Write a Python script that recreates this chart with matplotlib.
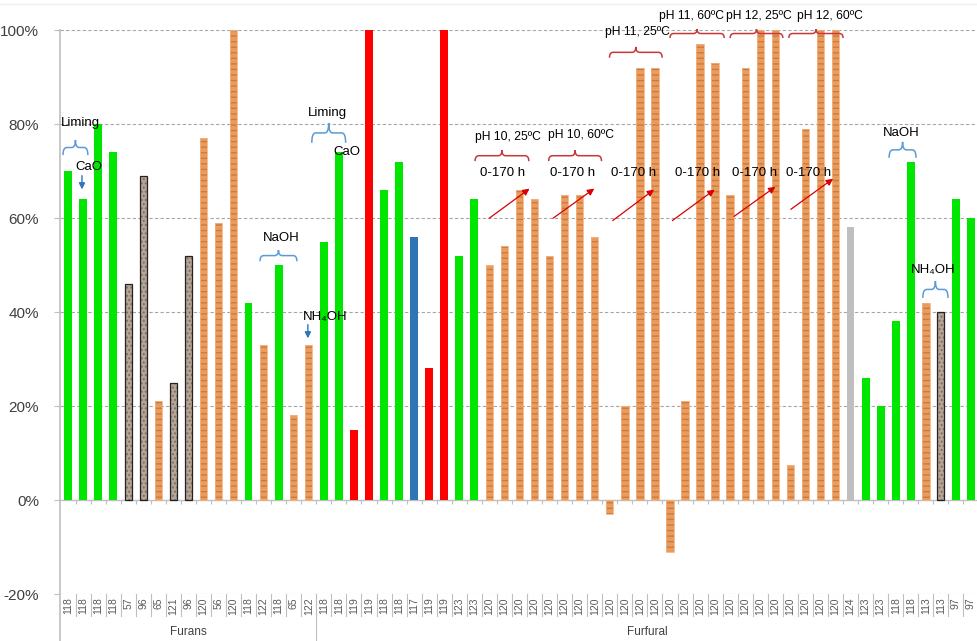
import matplotlib
matplotlib.use("Agg")
import matplotlib.pyplot as plt
from matplotlib.path import Path
from matplotlib.patches import PathPatch
from matplotlib.lines import Line2D
import matplotlib.transforms as mtransforms

plt.rcParams['font.family'] = ['Liberation Sans', 'DejaVu Sans']
plt.rcParams['hatch.linewidth'] = 1.0

# category labels (temperature) and groups
cats = (['118', '118', '118', '118', '57', '96', '65', '121', '96', '120', '56', '120',
         '118', '122', '118', '65', '122',
         '118', '118', '119', '119', '118', '118', '117', '119', '119', '123', '123']
        + ['120'] * 24
        + ['124', '123', '123', '118', '118', '113', '113', '97', '97'])
groups = ['Furans', 'Furfural']
group_sizes = [17, 44]

# removal (%) for each bar
vals = [70, 64, 80, 74, 46, 69, 21, 25, 52, 77, 59, 100, 42, 33, 50, 18, 33,
        55, 74, 15, 100, 66, 72, 56, 28, 100, 52, 64,
        50, 54, 66, 64, 52, 65, 65, 56, -3, 20, 92, 92, -11, 21, 97, 93, 65, 92,
        100, 100, 7.5, 79, 100, 100,
        58, 26, 20, 38, 72, 42, 40, 64, 60]

# adsorbent type per bar: g=lime/green, w=wood, s=stone, r=red, b=blue, l=light grey
kinds = "ggggsswsswwwgwgww" + "ggrrggbrrgg" + "w" * 24 + "lggggwsgg"

W, H = 977, 641
fig = plt.figure(figsize=(W / 100, H / 100), dpi=100)
ax = fig.add_axes([60 / W, (H - 594) / H, 917 / W, (594 - 30) / H])
ax.set_xlim(-0.53, 60.4)
ax.set_ylim(-20, 100)
for s in ax.spines.values():
    s.set_visible(False)

# grid
for v in [-20, 20, 40, 60, 80, 100]:
    ax.axhline(v, color='#A6A6A6', ls=(0, (3, 2)), lw=0.8, zorder=0)
ax.axhline(0, color='#BFBFBF', lw=1, zorder=1)
fig.add_artist(Line2D([0, 1], [(H - 4) / H] * 2, color='#EDEDED', lw=1))

bw = 0.52
for i, (v, k) in enumerate(zip(vals, kinds)):
    if k == 'g':
        ax.bar(i, v, bw, color='#00E600', lw=0, zorder=3)
    elif k == 'r':
        ax.bar(i, v, bw, color='#FF0000', lw=0, zorder=3)
    elif k == 'b':
        ax.bar(i, v, bw, color='#2E75B6', lw=0, zorder=3)
    elif k == 'l':
        ax.bar(i, v, bw, color='#BFBFBF', lw=0, zorder=3)
    elif k == 'w':
        ax.bar(i, v, bw * 0.95, color='#EA9C5E', lw=0, zorder=3)
        ax.bar(i, v, bw * 0.95, fill=False, hatch='---', edgecolor=(0.70, 0.38, 0.13, 0.55),
               lw=0, zorder=3)
        ax.bar(i, v, bw * 0.95, fill=False, edgecolor='#F2B283', lw=0.6, zorder=3)
    elif k == 's':
        ax.bar(i, v, bw * 0.9, color='#B4A596', lw=0, zorder=3)
        ax.bar(i, v, bw * 0.9, fill=False, hatch='....', edgecolor=(0.40, 0.33, 0.27, 0.6),
               lw=0, zorder=3)
        ax.bar(i, v, bw * 0.9, fill=False, edgecolor='#222222', lw=0.9, zorder=3)

# ticks at zero line
n = len(vals)
ax.vlines([i + 0.5 for i in range(n)], -0.9, 0, color='#BFBFBF', lw=0.8, zorder=1)

# y ticks
ax.set_yticks([-20, 0, 20, 40, 60, 80, 100])
ax.set_yticklabels([f"{v}%" for v in [-20, 0, 20, 40, 60, 80, 100]],
                   fontsize=11, color='#404040')
ax.tick_params(axis='y', length=4, color='#BFBFBF', pad=11)

# category tick labels
ax.set_xticks(range(n))
ax.set_xticklabels(cats, rotation=90, fontsize=7.5, color='#595959')
ax.tick_params(axis='x', length=0, pad=2.5)

trans = mtransforms.blended_transform_factory(ax.transData, ax.transAxes)
h_ax = 594 - 30
for i in range(n - 1):
    ax.add_line(Line2D([i + 0.5, i + 0.5], [0, -22 / h_ax], transform=trans,
                       color='#BFBFBF', lw=0.8, clip_on=False))
start = -0.5
for g, size in zip(groups, group_sizes):
    ax.text(start + size / 2, -38 / h_ax, g, transform=trans, ha='center', va='center',
            fontsize=8.5, color='#404040')
    start += size
    ax.add_line(Line2D([start, start], [0, -47 / h_ax], transform=trans,
                       color='#BFBFBF', lw=0.8, clip_on=False))
# left axis line
fig.add_artist(Line2D([60 / W, 60 / W], [0, (H - 30) / H], color='#BFBFBF', lw=1.2))


def brace(x0, x1, yb, yt, color):
    xm = (x0 + x1) / 2
    ym = (yb + yt) / 2
    d = 0.25
    verts = [(x0, yb), (x0, ym), (x0 + d, ym), (xm - d, ym), (xm, ym), (xm, yt),
             (xm, ym), (xm + d, ym), (x1 - d, ym), (x1, ym), (x1, yb)]
    codes = [Path.MOVETO, Path.CURVE3, Path.CURVE3, Path.LINETO, Path.CURVE3, Path.CURVE3,
             Path.CURVE3, Path.CURVE3, Path.LINETO, Path.CURVE3, Path.CURVE3]
    ax.add_patch(PathPatch(Path(verts, codes), fill=False, edgecolor=color, lw=1.1,
                           zorder=5, clip_on=False))


blue = '#5B9BD5'
red = '#C8373A'
# liming / CaO (furans)
ax.text(-0.45, 80.2, 'Liming', fontsize=9.5, ha='left', va='center', zorder=6)
brace(-0.33, 1.32, 73.4, 76.6, blue)
ax.text(1.42, 70.8, 'CaO', fontsize=9.5, ha='center', va='center', zorder=6)
ax.annotate('', xy=(0.93, 65.5), xytext=(0.93, 69.6),
            arrowprops=dict(arrowstyle='-|>', color='#2E75B6', lw=1, mutation_scale=9), zorder=6)
ax.text(14.15, 55.7, 'NaOH', fontsize=9.5, ha='center', va='center', zorder=6)
brace(12.76, 15.21, 50.8, 53.2, blue)
ax.text(17.06, 38.9, 'NH₄OH', fontsize=9.5, ha='center', va='center', zorder=6)
ax.annotate('', xy=(15.94, 33.8), xytext=(15.94, 37.9),
            arrowprops=dict(arrowstyle='-|>', color='#2E75B6', lw=1, mutation_scale=9), zorder=6)

# liming / CaO (furfural)
ax.text(17.26, 82.3, 'Liming', fontsize=9.5, ha='center', va='center', zorder=6)
brace(16.2, 18.45, 76.0, 80.2, blue)
ax.text(18.5, 74.0, 'CaO', fontsize=9.5, ha='center', va='center', zorder=6)

# pH conditions
ph_labels = ['pH 10, 25ºC', 'pH 10, 60ºC', 'pH 11, 25ºC', 'pH 11, 60ºC', 'pH 12, 25ºC', 'pH 12, 60ºC']
ph_text = [(29.2, 77.2), (34.06, 77.7), (37.83, 99.6), (41.4, 103.0), (45.9, 103.0), (50.6, 103.0)]
ph_brace = [(27.05, 30.62, 72.1, 74.4), (31.94, 35.45, 72.1, 74.4), (35.98, 39.48, 94.1, 96.4),
            (40.0, 43.6, 98.3, 100.2), (44.0, 47.5, 98.3, 100.2), (47.9, 51.5, 98.3, 100.2)]
h_text = [28.9, 33.5, 37.6, 41.8, 45.6, 49.2]
arrows = [((27.84, 59.6), (30.82, 66.6)), ((32.08, 59.6), (35.12, 66.6)),
          ((36.05, 59.1), (39.09, 66.4)), ((40.01, 59.1), (43.12, 66.4)),
          ((44.11, 60.0), (47.16, 67.0)), ((47.88, 61.5), (50.99, 68.7))]
for lab, (tx, ty), (b0, b1, yb, yt), hx, (a0, a1) in zip(ph_labels, ph_text, ph_brace, h_text, arrows):
    ax.text(tx, ty, lab, fontsize=8.7, ha='center', va='center', zorder=6)
    brace(b0, b1, yb, yt, red)
    ax.text(hx, 69.6, '0-170 h', fontsize=9.5, ha='center', va='center', zorder=6)
    ax.annotate('', xy=a1, xytext=a0,
                arrowprops=dict(arrowstyle='-|>', color='#D90000', lw=0.9, mutation_scale=10),
                zorder=6)

# NaOH / NH4OH (right)
ax.text(55.36, 78.1, 'NaOH', fontsize=9.5, ha='center', va='center', zorder=6)
brace(54.56, 56.35, 72.8, 76.2, blue)
ax.text(57.5, 48.9, 'NH₄OH', fontsize=9.5, ha='center', va='center', zorder=6)
brace(56.8, 58.47, 43.0, 46.6, blue)

fig.savefig('out.png', dpi=100)
